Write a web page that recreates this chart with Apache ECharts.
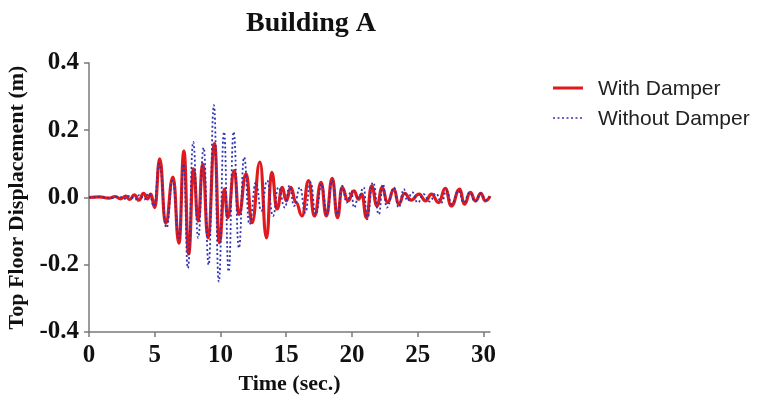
<!DOCTYPE html>
<html>
<head>
<meta charset="utf-8">
<script src="https://cdn.jsdelivr.net/npm/echarts@6/dist/echarts.min.js"></script>
<style>
  html, body { margin: 0; padding: 0; background: #ffffff; }
  #chart { width: 760px; height: 404px; }
</style>
</head>
<body>
<div id="chart"></div>
<script>
// Top floor displacement time histories for Building A (turning points, time in s, displacement in m)
const seriesNames = ['With Damper', 'Without Damper'];

const withDamper = [
  [0, 0], [0.8, 0.002], [1.5, -0.002], [2.0, 0.003], [2.4, -0.004], [2.8, 0.004],
  [3.1, -0.006], [3.45, 0.008], [3.8, -0.008], [4.15, 0.012], [4.45, -0.004], [4.7, 0.01],
  [5.0, -0.03], [5.38, 0.115], [5.83, -0.077], [6.39, 0.061], [6.84, -0.136], [7.22, 0.138],
  [7.58, -0.168], [7.95, 0.085], [8.3, -0.07], [8.65, 0.1], [9.05, -0.12], [9.55, 0.16],
  [9.92, -0.135], [10.3, 0.025], [10.55, -0.06], [11.05, 0.08], [11.4, -0.05], [11.95, 0.07],
  [12.4, -0.075], [13.0, 0.105], [13.5, -0.12], [13.9, 0.075], [14.3, -0.034], [14.7, 0.03],
  [15.0, -0.01], [15.35, 0.03], [15.75, -0.015], [16.2, -0.055], [16.7, 0.05], [17.15, -0.055],
  [17.65, 0.045], [18.05, -0.055], [18.5, 0.057], [18.9, -0.06], [19.25, 0.03], [19.7, -0.01],
  [20.15, 0.02], [20.5, -0.005], [20.75, 0.01], [21.1, -0.06], [21.5, 0.035], [21.9, -0.025],
  [22.3, 0.03], [22.7, -0.015], [23.2, 0.025], [23.55, -0.02], [24.0, 0.012], [24.5, -0.008],
  [25.1, 0.01], [25.6, -0.01], [26.05, 0.01], [26.6, -0.015], [27.1, 0.027], [27.55, -0.025],
  [28.2, 0.025], [28.55, -0.02], [29.0, 0.015], [29.4, -0.01], [29.8, 0.012], [30.15, -0.01],
  [30.5, 0.004]
];

const withoutDamper = [
  [0, 0], [1.0, 0.001], [1.8, -0.002], [2.3, 0.003], [2.7, -0.004], [3.1, 0.005],
  [3.5, -0.006], [3.85, 0.008], [4.2, -0.006], [4.55, 0.012], [4.95, -0.025], [5.35, 0.1],
  [5.9, -0.09], [6.35, 0.05], [6.85, -0.12], [7.2, 0.1], [7.52, -0.21], [7.93, 0.165],
  [8.3, -0.12], [8.72, 0.148], [9.1, -0.2], [9.5, 0.275], [9.87, -0.25], [10.27, 0.195],
  [10.62, -0.22], [11.0, 0.195], [11.4, -0.15], [11.8, 0.12], [12.2, -0.08], [12.7, 0.045],
  [13.1, -0.04], [13.55, 0.05], [14.0, -0.055], [14.4, 0.03], [14.9, -0.03], [15.25, 0.035],
  [15.6, -0.025], [16.05, 0.03], [16.45, -0.045], [16.85, 0.045], [17.25, -0.05], [17.7, 0.04],
  [18.1, -0.05], [18.5, 0.05], [18.9, -0.05], [19.25, 0.035], [19.6, -0.015], [19.95, 0.02],
  [20.15, -0.03], [20.5, 0.0], [20.9, 0.03], [21.15, -0.065], [21.6, 0.045], [22.05, -0.05],
  [22.35, 0.04], [22.65, -0.03], [23.2, 0.03], [23.55, -0.03], [23.95, 0.025], [24.2, -0.01],
  [24.6, 0.015], [25.0, -0.015], [25.45, 0.01], [25.9, -0.012], [26.4, 0.012], [26.8, -0.015],
  [27.2, 0.02], [27.6, -0.02], [28.1, 0.02], [28.5, -0.015], [28.95, 0.015], [29.35, -0.012],
  [29.8, 0.012], [30.2, -0.008], [30.5, 0.003]
];

const xTicks = [0, 5, 10, 15, 20, 25, 30];
const yTicks = [-0.4, -0.2, 0.0, 0.2, 0.4];

const serif = "'Liberation Serif', 'Times New Roman', serif";
const axisGrey = '#7a7a7a';
const redColor = '#e0191c';
const blueColor = '#3034b0';

const chart = echarts.init(document.getElementById('chart'), null, { renderer: 'canvas' });

// legend key drawn as plain line samples next to the series names
const legendKeys = [
  { name: seriesNames[0], y: 88, stroke: redColor, lineWidth: 3, lineDash: null },
  { name: seriesNames[1], y: 118, stroke: blueColor, lineWidth: 1.6, lineDash: [2, 2.5] }
];
const legendGraphics = [];
legendKeys.forEach(k => {
  legendGraphics.push({
    type: 'line',
    shape: { x1: 553, y1: k.y, x2: 583, y2: k.y },
    style: { stroke: k.stroke, lineWidth: k.lineWidth, lineDash: k.lineDash },
    silent: true
  });
  legendGraphics.push({
    type: 'text',
    x: 598,
    y: k.y + 1,
    style: {
      text: k.name, fill: '#222', font: "21px 'Liberation Sans', Arial, sans-serif",
      textVerticalAlign: 'middle', verticalAlign: 'middle'
    },
    silent: true
  });
});

chart.setOption({
  backgroundColor: '#ffffff',
  animation: false,
  title: {
    text: 'Building A',
    left: 306,
    top: 5,
    textAlign: 'center',
    textStyle: { fontFamily: serif, fontWeight: 'bold', fontSize: 28, color: '#111' }
  },
  graphic: legendGraphics,
  grid: { left: 89, right: 270, top: 63, bottom: 72, outerBoundsMode: 'none', containLabel: false },
  xAxis: {
    type: 'value',
    min: 0,
    max: 30.5,
    name: 'Time (sec.)',
    nameLocation: 'middle',
    nameGap: 41,
    nameTextStyle: { fontFamily: serif, fontWeight: 'bold', fontSize: 22, color: '#111' },
    axisLine: { onZero: false, lineStyle: { color: axisGrey, width: 1.5 } },
    axisTick: { show: true, length: 5, customValues: xTicks, lineStyle: { color: axisGrey, width: 1.5 } },
    axisLabel: {
      customValues: xTicks,
      margin: 11,
      fontFamily: serif, fontWeight: 'bold', fontSize: 25, color: '#111'
    },
    splitLine: { show: false }
  },
  yAxis: {
    type: 'value',
    min: -0.4,
    max: 0.4,
    name: 'Top Floor Displacement (m)',
    nameLocation: 'middle',
    nameGap: 55,
    nameTextStyle: { fontFamily: serif, fontWeight: 'bold', fontSize: 22, color: '#111' },
    axisLine: { onZero: false, lineStyle: { color: axisGrey, width: 1.5 } },
    axisTick: { show: true, length: 5, customValues: yTicks, lineStyle: { color: axisGrey, width: 1.5 } },
    axisLabel: {
      customValues: yTicks,
      margin: 10,
      formatter: v => v.toFixed(1),
      fontFamily: serif, fontWeight: 'bold', fontSize: 25, color: '#111'
    },
    splitLine: { show: false }
  },
  series: [
    {
      name: seriesNames[0],
      type: 'line',
      data: withDamper,
      showSymbol: false,
      symbol: 'none',
      smooth: 0.5,
      smoothMonotone: 'x',
      color: redColor,
      lineStyle: { color: redColor, width: 3.2 },
      z: 2
    },
    {
      name: seriesNames[1],
      type: 'line',
      data: withoutDamper,
      showSymbol: false,
      symbol: 'none',
      smooth: 0.5,
      smoothMonotone: 'x',
      color: blueColor,
      lineStyle: { color: blueColor, width: 1.8, type: [2, 2.5] },
      z: 3
    }
  ]
});
</script>
</body>
</html>
